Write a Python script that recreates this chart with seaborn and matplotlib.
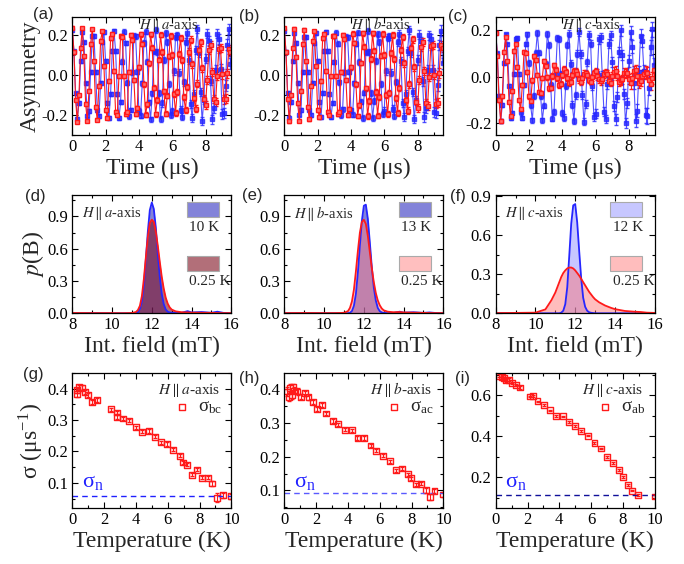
import numpy as np
import matplotlib
matplotlib.use("Agg")
import matplotlib.pyplot as plt
from matplotlib.ticker import MultipleLocator, FormatStrFormatter
from matplotlib.patches import Rectangle
import seaborn as sns

sns.set_theme(style="ticks")
plt.rcParams['font.family'] = ['Liberation Serif', 'DejaVu Serif']
plt.rcParams['mathtext.fontset'] = 'stix'
plt.rcParams['axes.unicode_minus'] = False

BLUE = '#2626ff'
RED = '#ff1a1a'

# ---- (a)-(c) asymmetry spectra, 0.1 us bins ----
time = np.round(np.arange(96) * 0.1, 1)

asym_a_blue = [.221, .117, -.093, -.219, -.141, .069, .212, .161, -.042, -.204, -.179, .015, .192, .194, .013, -.177, -.206, -.040, .161, .212, .069, -.141, -.217, -.095, .119,
               .219, .120, -.096, -.216, -.138, .066, .215, .158, -.039, -.207, -.176, .012, .195, .191, .016, -.180, -.203, -.043, .158, .215, .066, -.138, -.221, -.092, .116,
               .223, .115, -.091, -.222, -.143, .072, .209, .164, -.045, -.201, -.182, .018, .189, .197, .010, -.174, -.209, -.037, .164, .209, .072, -.144, -.214, -.098, .122,
               .228, .110, -.085, -.230, -.125, .080, .205, .170, -.030, -.222, -.165, .025, .205, .178, .030, -.195, -.190, -.055, .150, .228, .055]
asym_a_red = [.235, .114, -.125, -.235, -.103, .135, .232, .091, -.144, -.230, -.080, .153,
              .226, .067, -.161, -.223, -.056, .169, .217, .044, -.175, -.213, -.032, .182,
              .205, .019, -.186, -.200, -.008, .192, .190, -.004, -.193, -.184, .015, .198,
              .172, -.026, -.197, -.166, .037, .201, .154, -.047, -.199, -.146, .057, .202,
              .134, -.065, -.197, -.126, .075, .199, .113, -.082, -.193, -.105, .091, .193,
              .098, -.095, -.190, -.084, .103, .184, .072, -.112, -.175, -.063, .114, .174,
              .052, -.115, -.168, -.044, .121, .161, .033, -.120, -.149, -.025, .125, .146,
              .016, -.123, -.135, -.008, .127, .131, .004, -.123, -.120, .007, .127, .115]

asym_b_blue = [.216, .114, -.091, -.214, -.136, .067, .207, .158, -.041, -.199, -.175, .015, .187, .189, .013, -.173, -.201, -.039, .158, .207, .067, -.138, -.212, -.093, .116,
               .214, .117, -.094, -.211, -.139, .064, .210, .155, -.038, -.202, -.172, .012, .190, .186, .016, -.176, -.198, -.042, .155, .210, .064, -.135, -.215, -.090, .113,
               .218, .112, -.089, -.217, -.133, .069, .204, .161, -.044, -.196, -.178, .018, .184, .192, .010, -.170, -.204, -.036, .161, .204, .070, -.141, -.209, -.096, .119,
               .222, .108, -.085, -.222, -.128, .074, .200, .166, -.032, -.210, -.165, .024, .196, .180, .026, -.185, -.190, -.052, .148, .220, .058]
asym_b_red = [.232, .113, -.123, -.232, -.102, .133, .230, .090, -.142, -.228, -.079, .152,
              .224, .067, -.159, -.221, -.055, .167, .216, .043, -.174, -.212, -.032, .181,
              .205, .019, -.186, -.200, -.008, .192, .191, -.004, -.195, -.185, .015, .200,
              .176, -.026, -.201, -.169, .038, .205, .158, -.048, -.205, -.151, .059, .207,
              .139, -.068, -.205, -.131, .078, .207, .119, -.086, -.203, -.111, .095, .203,
              .099, -.101, -.197, -.089, .110, .196, .078, -.115, -.189, -.068, .123, .188,
              .057, -.126, -.179, -.048, .133, .177, .037, -.134, -.167, -.028, .140, .164,
              .018, -.140, -.154, -.009, .145, .150, .000, -.144, -.139, .009, .147, .134]

asym_c_blue = [.191, .101, -.080, -.189, -.120, .060, .183, .140, -.037, -.176, -.155, .013, .165, .167, .011, -.153, -.178, -.035, .140, .183, .060, -.122, -.187, -.082, .103,
               .189, .104, -.083, -.186, -.123, .057, .186, .137, -.034, -.179, -.152, .010, .168, .164, .014, -.156, -.175, -.038, .137, .186, .057, -.119, -.190, -.079, .100,
               .193, .099, -.078, -.192, -.117, .063, .180, .143, -.040, -.173, -.158, .016, .162, .170, .008, -.150, -.181, -.032, .143, .180, .064, -.126, -.183, -.085, .106,
               .200, .095, -.072, -.198, -.112, .068, .192, .130, -.025, -.188, -.145, .022, .178, .155, .024, -.165, -.168, -.046, .128, .205, .050]
asym_c_red = [.190, .092, -.101, -.190, -.083, .109, .171, .067, -.106, -.170, -.059, .113,
              .142, .042, -.101, -.140, -.035, .106, .105, .021, -.084, -.103, -.015, .088,
              .073, .007, -.066, -.071, -.003, .069, .048, -.001, -.049, -.046, .004, .050,
              .031, -.005, -.035, -.030, .007, .036, .021, -.006, -.027, -.020, .008, .027,
              .025, .012, -.010, -.020, -.006, .014, .018, .008, -.014, -.022, -.002, .017,
              .024, .003, -.011, -.019, -.008, .012, .020, .014, -.016, -.025, .004, .022,
              .027, .006, -.020, -.014, -.010, .018, .015, .018, -.008, -.028, -.003, .025,
              .030, .002, -.024, -.017, .006, .013, .022, .016, -.012, -.030, -.005, .028]

# error bar size per 1 us of time
err_ab_blue = [0.008, 0.009, 0.010, 0.011, 0.013, 0.015, 0.017, 0.020, 0.023, 0.027]
err_ab_red = [0.007, 0.008, 0.009, 0.010, 0.012, 0.013, 0.015, 0.017, 0.020, 0.023]
err_c_blue = [0.008, 0.009, 0.011, 0.012, 0.014, 0.016, 0.019, 0.022, 0.027, 0.033]
err_c_red = [0.007, 0.008, 0.009, 0.011, 0.012, 0.014, 0.016, 0.019, 0.022, 0.026]

# ---- (d)-(f) field distributions ----
field = [8.0, 9.0, 10.0, 10.5, 10.8, 11.0, 11.2, 11.3, 11.4, 11.5, 11.6, 11.7, 11.8, 11.9, 12.0, 12.1, 12.2,
         12.3, 12.4, 12.5, 12.6, 12.7, 12.8, 12.9, 13.0, 13.2, 13.5, 13.8, 14.0, 14.5, 15.0, 15.3, 15.6, 16.0]
pb_d_hi = [0, 0.002, 0, 0, 0, 0, 0.002, 0.01, 0.04, 0.11, 0.26, 0.50, 0.76, 0.96, 1.03, 0.97, 0.80,
           0.56, 0.34, 0.18, 0.085, 0.035, 0.015, 0.008, 0.005, 0.003, 0.005, 0.02, 0.008, 0.012, 0.005, 0.015, 0.004, 0]
pb_d_lo = [0.003, 0.002, 0.002, 0.001, 0.002, 0.003, 0.012, 0.03, 0.07, 0.16, 0.32, 0.52, 0.71, 0.84, 0.87, 0.85, 0.76,
           0.63, 0.48, 0.34, 0.23, 0.145, 0.09, 0.055, 0.035, 0.018, 0.01, 0.008, 0.006, 0.005, 0.004, 0.003, 0.002, 0.002]
pb_e_hi = [0, 0.002, 0, 0, 0, 0, 0.001, 0.005, 0.02, 0.07, 0.18, 0.38, 0.63, 0.86, 1.0, 1.01, 0.88,
           0.66, 0.43, 0.24, 0.12, 0.05, 0.02, 0.008, 0.004, 0.002, 0.004, 0.015, 0.006, 0.01, 0.004, 0.008, 0.003, 0]
pb_e_lo = [0.002, 0.003, 0.002, 0.002, 0.003, 0.005, 0.02, 0.05, 0.11, 0.22, 0.39, 0.58, 0.75, 0.85, 0.87, 0.83, 0.72,
           0.57, 0.42, 0.29, 0.19, 0.12, 0.075, 0.045, 0.028, 0.015, 0.01, 0.012, 0.008, 0.006, 0.004, 0.003, 0.002, 0.002]
pb_f_hi = [0, 0.002, 0, 0, 0, 0, 0, 0.005, 0.02, 0.07, 0.2, 0.44, 0.69, 0.83, 0.84, 0.7, 0.48,
           0.27, 0.12, 0.05, 0.02, 0.008, 0.004, 0.002, 0, 0, 0, 0, 0, 0, 0, 0, 0, 0]
pb_f_lo = [0.002, 0.003, 0.005, 0.03, 0.1, 0.16, 0.24, 0.28, 0.31, 0.33, 0.345, 0.352, 0.352, 0.345, 0.33, 0.31, 0.29,
           0.265, 0.24, 0.215, 0.19, 0.165, 0.145, 0.125, 0.108, 0.085, 0.06, 0.042, 0.032, 0.018, 0.012, 0.01, 0.005, 0.003]

# ---- (g)-(i) relaxation rate vs temperature ----
temp_g = [0.28, 0.31, 0.44, 0.63, 0.8, 1.0, 1.26, 1.53, 2.41, 2.83, 2.83, 3.21, 3.58, 3.99, 4.4, 4.8,
          5.2, 5.6, 5.97, 6.35, 6.77, 6.94, 7.19, 7.55, 7.86, 8.18, 8.55, 8.8, 9.08, 9.46, 10.0]
sig_g = [0.395, 0.382, 0.405, 0.403, 0.39, 0.379, 0.358, 0.365, 0.335, 0.324, 0.31, 0.305, 0.298, 0.277, 0.263, 0.265,
         0.247, 0.229, 0.224, 0.205, 0.186, 0.165, 0.158, 0.126, 0.142, 0.116, 0.116, 0.098, 0.053, 0.06, 0.058]
err_g = [0.008, 0.010, 0.008, 0.008, 0.007, 0.007, 0.007, 0.006, 0.005, 0.005, 0.005, 0.005, 0.005, 0.005, 0.005, 0.005,
         0.005, 0.005, 0.005, 0.005, 0.005, 0.005, 0.005, 0.005, 0.005, 0.005, 0.005, 0.007, 0.015, 0.008, 0.008]
temp_h = [0.17, 0.27, 0.38, 0.48, 0.54, 0.63, 0.83, 1.04, 1.31, 1.52, 1.79, 2.04, 2.35, 2.63, 3.04, 3.4, 3.81,
          4.23, 4.6, 5.02, 5.42, 5.79, 6.21, 6.63, 7.0, 7.42, 7.77, 7.98, 8.29, 8.6, 8.92, 9.17, 9.44, 9.96]
sig_h = [0.393, 0.378, 0.403, 0.383, 0.406, 0.396, 0.393, 0.378, 0.388, 0.376, 0.363, 0.34, 0.353, 0.328, 0.306, 0.296, 0.28,
         0.278, 0.255, 0.255, 0.233, 0.218, 0.203, 0.186, 0.16, 0.165, 0.148, 0.136, 0.118, 0.12, 0.1, 0.08, 0.098, 0.088]
err_h = [0.012, 0.012, 0.012, 0.012, 0.010, 0.010, 0.010, 0.008, 0.008, 0.007, 0.006, 0.006, 0.006, 0.005, 0.005, 0.005, 0.005,
         0.005, 0.005, 0.005, 0.005, 0.005, 0.005, 0.005, 0.005, 0.005, 0.005, 0.005, 0.005, 0.005, 0.007, 0.008, 0.007, 0.008]
temp_i = [0.23, 0.38, 0.53, 0.65, 0.86, 1.01, 1.26, 1.54, 2.17, 2.32, 2.63, 3.01, 3.39, 3.81, 4.21, 4.59,
          5.01, 5.39, 5.79, 6.21, 6.63, 7.01, 7.39, 7.75, 8.02, 8.32, 8.59, 8.95, 10.0]
sig_i = [0.697, 0.69, 0.685, 0.673, 0.677, 0.66, 0.651, 0.639, 0.595, 0.597, 0.571, 0.554, 0.527, 0.501, 0.498, 0.469,
         0.45, 0.425, 0.404, 0.367, 0.341, 0.299, 0.271, 0.237, 0.2, 0.163, 0.135, 0.115, 0.106]
err_i = [0.006, 0.006, 0.006, 0.006, 0.006, 0.006, 0.006, 0.006, 0.004, 0.004, 0.004, 0.004, 0.004, 0.004, 0.004, 0.004,
         0.004, 0.004, 0.004, 0.004, 0.004, 0.004, 0.004, 0.004, 0.004, 0.004, 0.004, 0.004, 0.006]
sigma_n = [0.057, 0.092, 0.112]

axis_names = ['a', 'b', 'c']
temp_labels = [['10 K', '0.25 K'], ['13 K', '0.25 K'], ['12 K', '0.25 K']]
sigma_names = ['bc', 'ac', 'ab']

LABEL_FS = 17

fig = plt.figure(figsize=(6.84, 5.64), dpi=100)
lefts = [0.1057, 0.4157, 0.7247]
W = 0.2325
rows = [(0.7606, 0.2101), (0.4445, 0.2098), (0.0993, 0.2394)]
axes = [[fig.add_axes([l, b, W, h]) for l in lefts] for (b, h) in rows]


def style(ax, xmaj, xmin, ymaj, ymin):
    ax.xaxis.set_major_locator(MultipleLocator(xmaj))
    ax.xaxis.set_minor_locator(MultipleLocator(xmin))
    ax.yaxis.set_major_locator(MultipleLocator(ymaj))
    ax.yaxis.set_minor_locator(MultipleLocator(ymin))
    ax.yaxis.set_major_formatter(FormatStrFormatter('%.1f'))
    ax.tick_params(which='both', direction='in', top=True, right=True, width=0.8, colors='black')
    ax.tick_params(which='major', length=4, labelsize=12, pad=3)
    ax.tick_params(which='minor', length=2)
    for sp in ax.spines.values():
        sp.set_linewidth(0.9)
        sp.set_color('black')


# top row
spectra = [(asym_a_blue, asym_a_red, err_ab_blue, err_ab_red),
           (asym_b_blue, asym_b_red, err_ab_blue, err_ab_red),
           (asym_c_blue, asym_c_red, err_c_blue, err_c_red)]
for j, (yb, yr, eb, er) in enumerate(spectra):
    ax = axes[0][j]
    ax.errorbar(time, yb, yerr=np.repeat(eb, 10)[:len(time)], fmt='-s', color=BLUE, ms=2.6,
                lw=0.8, elinewidth=0.8, capsize=1.5, alpha=0.8)
    ax.errorbar(time, yr, yerr=np.repeat(er, 10)[:len(time)], fmt='-s', color=RED, ms=2.6,
                lw=0.8, elinewidth=0.8, capsize=1.5, mfc='#ff7070')
    ax.set_xlim(0, 9.55)
    if j < 2:
        ax.set_ylim(-0.3, 0.29)
    else:
        ax.set_ylim(-0.25, 0.26)
    style(ax, 2, 1, 0.2, 0.1)
    ax.set_xlabel('Time (μs)', fontsize=LABEL_FS, labelpad=2)
    ax.text(0.42, 0.93, r'$H\parallel ' + axis_names[j] + '$-axis', transform=ax.transAxes,
            fontsize=10.5, va='center', ha='left')
axes[0][0].set_ylabel('Asymmetry', fontsize=LABEL_FS, labelpad=1)

# middle row
pb_sets = [(pb_d_hi, pb_d_lo), (pb_e_hi, pb_e_lo), (pb_f_hi, pb_f_lo)]
fills = [(('#3030c0', 0.6), ('#801020', 0.6)),
         (('#3030c0', 0.6), ('#ff8080', 0.5)),
         (('#9999ff', 0.55), ('#ff6e6e', 0.45))]
for j, (phi, plo) in enumerate(pb_sets):
    ax = axes[1][j]
    (cb, ab), (cr, ar) = fills[j]
    ax.fill_between(field, phi, color=cb, alpha=ab, lw=0)
    ax.fill_between(field, plo, color=cr, alpha=ar, lw=0)
    sns.lineplot(x=field, y=phi, ax=ax, color=BLUE, lw=1.3)
    sns.lineplot(x=field, y=plo, ax=ax, color=RED, lw=1.3)
    ax.set_xlim(8, 16)
    ax.set_ylim(0, 1.1 if j < 2 else 0.91)
    style(ax, 2, 1, 0.3, 0.15)
    ax.set_xlabel('Int. field (mT)', fontsize=LABEL_FS, labelpad=2)
    ax.text(0.06, 0.845, r'$H\parallel ' + axis_names[j] + '$-axis', transform=ax.transAxes,
            fontsize=10.5, va='center', ha='left')
    for (c, a), lab, ytop in zip(fills[j], temp_labels[j], [0.94, 0.485]):
        ax.add_patch(Rectangle((0.72, ytop - 0.125), 0.2, 0.125, transform=ax.transAxes,
                               facecolor=c, alpha=a, edgecolor='none'))
        ax.add_patch(Rectangle((0.72, ytop - 0.125), 0.2, 0.125, transform=ax.transAxes,
                               facecolor='none', edgecolor='#aaaaaa', lw=0.8))
        ax.text(0.735, ytop - 0.215, lab, transform=ax.transAxes, fontsize=11, va='center')
axes[1][0].set_ylabel('$p$(B)', fontsize=LABEL_FS, labelpad=1)

# bottom row
sig_sets = [(temp_g, sig_g, err_g), (temp_h, sig_h, err_h), (temp_i, sig_i, err_i)]
dash_cols = ['#2020ff', '#5a5aff', '#10109a']
for j, (tt, ss, ee) in enumerate(sig_sets):
    ax = axes[2][j]
    ax.axhline(sigma_n[j], color=dash_cols[j], ls=(0, (4, 3)), lw=1.0)
    ax.errorbar(tt, ss, yerr=ee, fmt='none', ecolor=RED, elinewidth=0.8, capsize=1.5)
    sns.scatterplot(x=tt, y=ss, ax=ax, marker='s', s=18, color='none', edgecolor=RED, linewidth=1.0)
    ax.set_xlim(0, 10)
    if j == 0:
        ax.set_ylim(0.02, 0.45)
        style(ax, 2, 1, 0.1, 0.05)
    elif j == 1:
        ax.set_ylim(0.048, 0.448)
        style(ax, 2, 1, 0.1, 0.05)
    else:
        ax.set_ylim(0.05, 0.71)
        style(ax, 2, 1, 0.2, 0.1)
    ax.set_xlabel('Temperature (K)', fontsize=LABEL_FS, labelpad=2)
    ax.text(0.93, 0.875, r'$H\parallel ' + axis_names[j] + '$-axis', transform=ax.transAxes,
            fontsize=11, va='center', ha='right')
    ax.scatter([0.69], [0.75], transform=ax.transAxes, marker='s', s=18, facecolor='none',
               edgecolor=RED, linewidth=1.0)
    ax.text(0.79, 0.75, 'σ$_{\\mathregular{' + sigma_names[j] + '}}$', transform=ax.transAxes,
            fontsize=13.5, va='center')
    ax.text(0.06, 0.19, 'σ$_{\\mathregular{n}}$', transform=ax.transAxes, fontsize=16,
            color='#2020ff', va='center')
axes[2][0].set_ylabel('σ (μs$^{\\mathregular{-1}}$)', fontsize=LABEL_FS, labelpad=1)

panel_pos = {'(a)': (43, 14), '(b)': (249, 17), '(c)': (458, 17),
             '(d)': (35, 197), '(e)': (252, 196), '(f)': (458, 197),
             '(g)': (33, 375), '(h)': (249, 378), '(i)': (462, 378)}
for lab, (px, py) in panel_pos.items():
    fig.text(px / 684, 1 - py / 564, lab, fontsize=12, ha='center', va='center',
             family=['Liberation Sans', 'DejaVu Sans'])

fig.savefig('out.png', dpi=100, facecolor='white')
